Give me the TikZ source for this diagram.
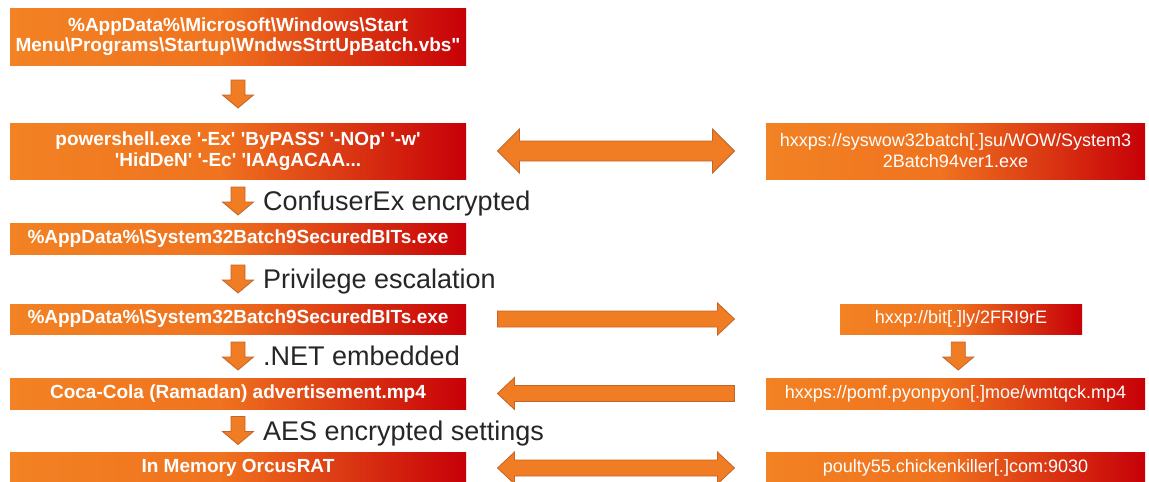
\documentclass[tikz,border=0pt]{standalone}
\usepackage{fontspec}
\setmainfont{Liberation Sans}
\usetikzlibrary{calc}
\pgfdeclarehorizontalshading{boxshade}{100bp}{rgb(0bp)=(0.95,0.51,0.14); rgb(25bp)=(0.95,0.51,0.14); rgb(48bp)=(0.94,0.45,0.12); rgb(75bp)=(0.78,0.0,0.03); rgb(100bp)=(0.78,0.0,0.03)}
\definecolor{arrowfill}{RGB}{240,125,35}
\definecolor{arrowedge}{RGB}{195,100,40}
\definecolor{labelgray}{RGB}{38,38,38}
\newcommand{\qq}{\textquotesingle}
\tikzset{
  box/.style={shading=boxshade, draw=none, inner sep=0pt, text=white,
    font=\fontsize{19}{20.5}\selectfont\bfseries, align=center, minimum width=456pt},
  rbox/.style={box, font=\fontsize{18}{21}\selectfont, minimum width=379pt},
  blk/.style={fill=arrowfill, draw=arrowedge, line width=0.8pt, line join=miter},
  lbl/.style={anchor=base west, text=labelgray, font=\fontsize{27}{30}\selectfont, inner sep=0pt},
  pics/darrow/.style={code={
    \draw[blk] (-7,-14) -- (7,-14) -- (7,1) -- (15.5,1) -- (0,14) -- (-15.5,1) -- (-7,1) -- cycle;
  }},
  pics/rarrow/.style n args={4}{code={
    \draw[blk] ({-#1/2},{-#3/2}) -- ({#1/2-#4},{-#3/2}) -- ({#1/2-#4},{-#2/2}) -- ({#1/2},0)
      -- ({#1/2-#4},{#2/2}) -- ({#1/2-#4},{#3/2}) -- ({-#1/2},{#3/2}) -- cycle;
  }},
  pics/darrowh/.style n args={4}{code={
    \draw[blk] ({-#1/2},0) -- ({-#1/2+#4},{-#2/2}) -- ({-#1/2+#4},{-#3/2}) -- ({#1/2-#4},{-#3/2})
      -- ({#1/2-#4},{-#2/2}) -- ({#1/2},0) -- ({#1/2-#4},{#2/2}) -- ({#1/2-#4},{#3/2})
      -- ({-#1/2+#4},{#3/2}) -- ({-#1/2+#4},{#2/2}) -- cycle;
  }}
}
\begin{document}
\begin{tikzpicture}[x=1pt,y=-1pt]
\useasboundingbox (0,0) rectangle (1149,482);
\fill[white] (0,0) rectangle (1149,482);

% left column
\node[box, minimum height=57pt] (b1) at (238,36.5) {\%AppData\%\textbackslash Microsoft\textbackslash Windows\textbackslash Start\\Menu\textbackslash Programs\textbackslash Startup\textbackslash WndwsStrtUpBatch.vbs\textquotedbl};
\node[box, minimum height=56pt] (b2) at (238,151) {powershell.exe \qq-Ex\qq{} \qq ByPASS\qq{} \qq-NOp\qq{} \qq-w\qq\\\qq HidDeN\qq{} \qq-Ec\qq{} \qq IAAgACAA...};
\node[box, minimum height=31pt] (b3) at (238,238.5) {\%AppData\%\textbackslash System32Batch9SecuredBITs.exe};
\node[box, minimum height=30pt] (b4) at (238,319) {\%AppData\%\textbackslash System32Batch9SecuredBITs.exe};
\node[box, minimum height=31pt] (b5) at (238,393.5) {Coca-Cola (Ramadan) advertisement.mp4};
\node[box, minimum height=32pt] (b6) at (238,468) {In Memory OrcusRAT};

% right column
\node[rbox, minimum height=56pt] (r1) at (955.5,151) {hxxps://syswow32batch[.]su/WOW/System3\\2Batch94ver1.exe};
\node[rbox, minimum height=30pt, minimum width=242pt] (r2) at (961,319) {hxxp://bit[.]ly/2FRI9rE};
\node[rbox, minimum height=31pt] (r3) at (955.5,393.5) {hxxps://pomf.pyonpyon[.]moe/wmtqck.mp4};
\node[rbox, minimum height=32pt] (r4) at (955.5,468) {poulty55.chickenkiller[.]com:9030};

% vertical arrows
\coordinate (a1) at ($(b1.south)!0.5!(b2.north)$);
\coordinate (a2) at ($(b2.south)!0.5!(b3.north)$);
\coordinate (a3) at ($(b3.south)!0.5!(b4.north)$);
\coordinate (a4) at ($(b4.south)!0.5!(b5.north)$);
\coordinate (a5) at ($(b5.south)!0.5!(b6.north)$);
\coordinate (ar) at ($(r2.south)!0.5!(r3.north)$);
\foreach \c in {a1,a2,a3,a4,a5,ar} \pic at (\c) {darrow};

\node[lbl] (l2) at ($(a2)+(25,9.5)$) {ConfuserEx encrypted};
\node[lbl] (l3) at ($(a3)+(25,9.5)$) {Privilege escalation};
\node[lbl] (l4) at ($(a4)+(25,9.5)$) {.NET embedded};
\node[lbl] (l5) at ($(a5)+(25,9.5)$) {AES encrypted settings};

% horizontal arrows
\coordinate (h2) at ($(b2.east)!0.5!(r1.west)$);
\coordinate (h4) at ($(b4.east)!0.5!(r1.west |- b4.east)$);
\coordinate (h5) at ($(b5.east)!0.5!(r3.west)$);
\coordinate (h6) at ($(b6.east)!0.5!(r4.west)$);
\pic at (h2) {darrowh={237}{44}{20}{22}};
\pic at (h4) {rarrow={237}{32}{16}{17}};
\pic[xscale=-1] at (h5) {rarrow={237}{32}{16}{17}};
\pic at (h6) {darrowh={237}{32}{16}{17}};
\end{tikzpicture}
\end{document}
